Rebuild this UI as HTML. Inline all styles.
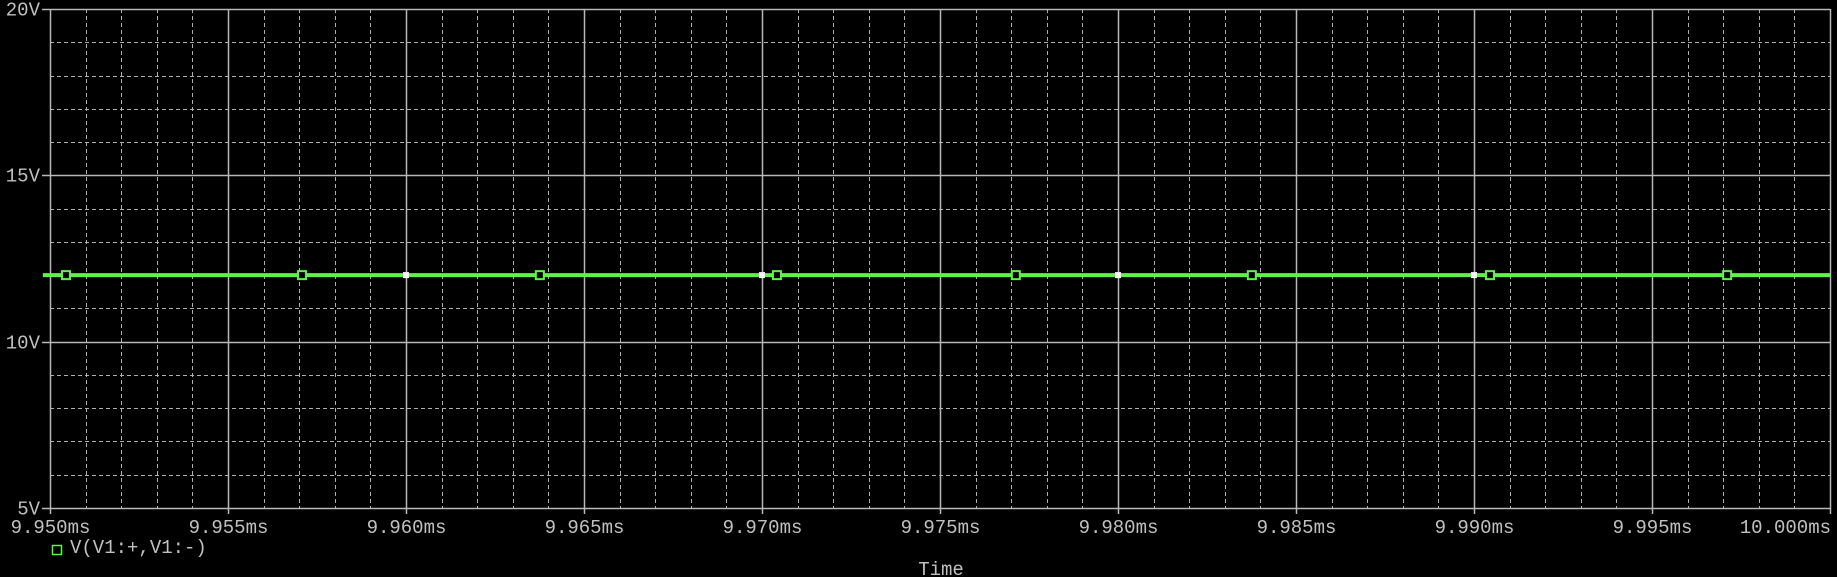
<!DOCTYPE html>
<html><head><meta charset="utf-8"><style>
html,body{margin:0;padding:0;background:#000;width:1837px;height:577px;overflow:hidden}
svg{display:block}
text{font-family:"Liberation Mono","DejaVu Sans Mono",monospace;fill:#c0c0c0;font-size:19px}
</style></head><body>
<svg id="chart" width="1837" height="577" xmlns="http://www.w3.org/2000/svg">
<g id="grid"></g>
<g id="axes"></g>
<g id="series"></g>
<g id="legend">
<rect x="52.5" y="545.5" width="9" height="9" fill="none" stroke="#5cf545" stroke-width="1.5"/>
<text x="70" y="553">V(V1:+,V1:-)</text>
</g>
<text x="941" y="575" text-anchor="middle">Time</text>
</svg>
<script>
const xTickLabels = ["9.950ms","9.955ms","9.960ms","9.965ms","9.970ms","9.975ms","9.980ms","9.985ms","9.990ms","9.995ms","10.000ms"];
const yTickValues = [5,10,15,20];
const yTickLabels = ["5V","10V","15V","20V"];
const markerTimes = [9.95045,9.95708,9.96376,9.97042,9.97713,9.98376,9.99045,9.99711];
const markerValues = [12,12,12,12,12,12,12,12];
const lineTimes = [9.9498,10.0];
const lineValues = [12,12];
const xMin=9.950,xMax=10.000,yMin=5,yMax=20;
const L=50,R=1830,T=9,B=508;
const X=t=>L+(t-xMin)/(xMax-xMin)*(R-L);
const Y=v=>B-(v-yMin)/(yMax-yMin)*(B-T);
const NS="http://www.w3.org/2000/svg";
function mk(tag,attrs,parent){const e=document.createElementNS(NS,tag);for(const k in attrs)e.setAttribute(k,attrs[k]);parent.appendChild(e);return e;}
const grid=document.getElementById('grid'),axes=document.getElementById('axes'),series=document.getElementById('series');
// minor vertical dashed
for(let i=0;i<50;i++){ if(i%5===0) continue; const x=Math.round(L+i*(R-L)/50)+0.5;
 const l=mk('line',{x1:x,x2:x,y1:T,y2:B,stroke:'#b0b0b0','stroke-width':1,'stroke-dasharray':'4,3'},grid);
 
 }
// minor horizontal dashed
for(let v=yMin;v<=yMax;v++){ if(v%5===0) continue; const y=Math.round(Y(v))+0.5;
 const l=mk('line',{x1:L,x2:R,y1:y,y2:y,stroke:'#b0b0b0','stroke-width':1,'stroke-dasharray':'4,3'},grid);
 
 }
// major vertical
xTickLabels.forEach((lab,i)=>{const t=xMin+i*(xMax-xMin)/(xTickLabels.length-1);const x=Math.round(X(t))+0.5;
 const l=mk('line',{x1:x,x2:x,y1:T,y2:B+6,stroke:'#b8b8b8','stroke-width':1.5},axes);
 
 
 const anchor=i===xTickLabels.length-1?'end':'middle';
 const tx=mk('text',{x:i===xTickLabels.length-1?R+1:x,y:533,'text-anchor':anchor},axes);tx.textContent=lab;
 
 });
// major horizontal
yTickValues.forEach((v,i)=>{const y=Math.round(Y(v))+0.5;
 const l=mk('line',{x1:L-8,x2:R,y1:y,y2:y,stroke:'#b8b8b8','stroke-width':1.5},axes);
 
 
 const tx=mk('text',{x:40,y:y+6,'text-anchor':'end'},axes);tx.textContent=yTickLabels[i];
 
 });
// trace
const pl=mk('polyline',{points:lineTimes.map((t,i)=>X(t)+','+Y(lineValues[i])).join(' '),fill:'none',stroke:'#5cf545','stroke-width':4},series);


// white crossings at major grid
xTickLabels.forEach((lab,i)=>{ if(i%2===1||i===0||i===xTickLabels.length-1) return; const t=xMin+i*(xMax-xMin)/(xTickLabels.length-1);
 const r=mk('rect',{x:X(t)-3,y:Y(12)-3,width:6,height:6,fill:'#ffffff'},series);
 
 });
markerTimes.forEach((t,i)=>{
 const r=mk('rect',{x:X(t)-4,y:Y(markerValues[i])-4,width:8,height:8,fill:'#000',stroke:'#5cf545','stroke-width':2},series);
 
 });
</script>
</body></html>
